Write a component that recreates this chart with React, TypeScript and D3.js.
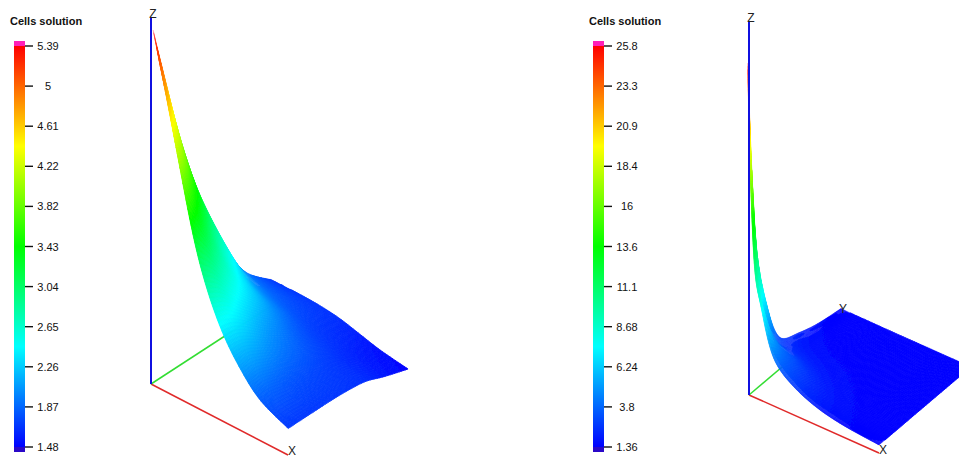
import React from "react";
import * as d3 from "d3";

const legendTitle = "Cells solution";
const leftTickLabels = ["5.39","5","4.61","4.22","3.82","3.43","3.04","2.65","2.26","1.87","1.48"];
const rightTickLabels = ["25.8","23.3","20.9","18.4","16","13.6","11.1","8.68","6.24","3.8","1.36"];

const leftXNodes = [0, 0.1, 0.2, 0.35, 0.5, 0.65, 0.8, 1];
const leftYNodes = [0, 0.1, 0.2, 0.35, 0.5, 0.65, 0.8, 1];
const leftValues = [
  [5.39,4.71,4.00,3.03,2.44,2.08,1.84,1.69],
  [4.76,4.20,3.61,2.88,2.40,2.08,1.84,1.69],
  [4.14,3.69,3.22,2.68,2.30,2.02,1.81,1.69],
  [3.38,3.07,2.74,2.42,2.12,1.92,1.77,1.69],
  [2.80,2.60,2.38,2.18,1.97,1.83,1.73,1.68],
  [2.28,2.17,2.06,1.95,1.82,1.74,1.68,1.65],
  [1.94,1.89,1.85,1.78,1.71,1.66,1.61,1.57],
  [1.69,1.69,1.69,1.68,1.65,1.59,1.53,1.48],
];

const rightXNodes = [0, 0.02, 0.05, 0.1, 0.2, 0.35, 0.55, 0.75, 1];
const rightYNodes = [0, 0.02, 0.05, 0.1, 0.2, 0.35, 0.55, 0.75, 1];
const rightValues = [
  [25.8,16.6,10.2,7.6,4.2,2.85,2.0,1.6,1.36],
  [21.5,13.93,9.4,7.2,4.12,2.8,1.98,1.59,1.36],
  [16,10.5,8.3,6.6,4.0,2.72,1.94,1.57,1.36],
  [10.5,7.6,6.3,5.4,3.75,2.6,1.88,1.54,1.36],
  [6.3,4.8,4.0,3.8,3.2,2.35,1.75,1.48,1.36],
  [3.0,2.8,2.6,2.45,2.2,1.85,1.55,1.42,1.36],
  [2.25,2.05,1.9,1.75,1.6,1.5,1.42,1.38,1.36],
  [1.75,1.6,1.55,1.5,1.45,1.4,1.37,1.36,1.36],
  [1.4,1.39,1.38,1.37,1.37,1.36,1.36,1.36,1.36],
];

const paletteStops = [0, 0.25, 0.5, 0.75, 1];
const paletteColors = ["#0000ff", "#00ffff", "#00ff00", "#ffff00", "#ff0000"];

type PanelCfg = {
  xNodes: number[]; yNodes: number[]; values: number[][]; ticks: string[];
  legendX: number; titleX: number; labelX: number;
  origin: [number, number]; ex: [number, number]; ey: [number, number];
  zTop: number; zLow: number; zHigh: number; lean: number;
  labels: { t: string; x: number; y: number }[];
};

const panels: PanelCfg[] = [
  {
    xNodes: leftXNodes, yNodes: leftYNodes, values: leftValues, ticks: leftTickLabels,
    legendX: 14, titleX: 10, labelX: 48,
    origin: [151, 384], ex: [137, 71], ey: [120, -78],
    zTop: 18, zLow: 8, zHigh: 354, lean: 0.006,
    labels: [{ t: "Z", x: 153, y: 18 }, { t: "X", x: 292, y: 455 }],
  },
  {
    xNodes: rightXNodes, yNodes: rightYNodes, values: rightValues, ticks: rightTickLabels,
    legendX: 593, titleX: 589, labelX: 627,
    origin: [749, 395], ex: [130, 58], ey: [92, -78],
    zTop: 22, zLow: 8, zHigh: 332, lean: -0.004,
    labels: [{ t: "Z", x: 751, y: 22 }, { t: "X", x: 883, y: 454 }, { t: "Y", x: 843, y: 313 }],
  },
];

function catmull(v: number[], t: number): number {
  const n = v.length;
  const i = Math.min(Math.floor(t), n - 2);
  const f = t - i;
  const p0 = v[Math.max(i - 1, 0)], p1 = v[i], p2 = v[i + 1], p3 = v[Math.min(i + 2, n - 1)];
  return 0.5 * (2 * p1 + (p2 - p0) * f + (2 * p0 - 5 * p1 + 4 * p2 - p3) * f * f + (3 * p1 - p0 - 3 * p2 + p3) * f * f * f);
}

const SUB = 12;

function Panel({ cfg }: { cfg: PanelCfg }) {
  const flat = cfg.values.flat();
  const vMin = +cfg.ticks[cfg.ticks.length - 1];
  const vMax = +cfg.ticks[0];
  const color = d3.scaleLinear<string>()
    .domain(paletteStops.map((s) => vMin + s * (vMax - vMin)))
    .range(paletteColors)
    .interpolate(d3.interpolateRgb)
    .clamp(true);
  const xToPx = d3.scaleLinear([0, 1], [0, cfg.ex[0]]);
  const xToPy = d3.scaleLinear([0, 1], [0, cfg.ex[1]]);
  const yToPx = d3.scaleLinear([0, 1], [0, cfg.ey[0]]);
  const yToPy = d3.scaleLinear([0, 1], [0, cfg.ey[1]]);
  const zScale = d3.scaleLinear([d3.min(flat)!, vMax], [cfg.zLow, cfg.zHigh]);
  const project = (a: number, b: number, u: number): [number, number] => [
    cfg.origin[0] + xToPx(a) + yToPx(b) + cfg.lean * zScale(u),
    cfg.origin[1] + xToPy(a) + yToPy(b) - zScale(u),
  ];

  const logs = cfg.values.map((r) => r.map(Math.log));
  const na = (cfg.xNodes.length - 1) * SUB + 1;
  const nb = (cfg.yNodes.length - 1) * SUB + 1;
  const grid: { p: [number, number]; u: number }[][] = [];
  for (let j = 0; j < nb; j++) {
    const tb = j / SUB;
    const b = Math.max(0, Math.min(1, catmull(cfg.yNodes, tb)));
    const col: number[] = cfg.xNodes.map((_, i) => catmull(logs.map((r) => r[i]), tb));
    const row: { p: [number, number]; u: number }[] = [];
    for (let i = 0; i < na; i++) {
      const ta = i / SUB;
      const a = Math.max(0, Math.min(1, catmull(cfg.xNodes, ta)));
      const u = Math.exp(catmull(col, ta));
      row.push({ p: project(a, b, u), u });
    }
    grid.push(row);
  }

  const quads: React.ReactNode[] = [];
  for (let j = nb - 2; j >= 0; j--) {
    for (let i = 0; i < na - 1; i++) {
      const c = [grid[j][i], grid[j][i + 1], grid[j + 1][i + 1], grid[j + 1][i]];
      const pts = c.map((q) => q.p);
      const d = d3.line()(pts) + "Z";
      const fill = color(d3.mean(c, (q) => q.u)!);
      const area = Math.abs(d3.polygonArea(pts));
      quads.push(<path key={`${j}-${i}`} d={d} fill={fill} stroke={fill} strokeWidth={area < 0.7 ? 0.15 : 0.8} />);
    }
  }

  // legend
  const barTop = 41, barBottom = 452;
  const tickY = d3.scalePoint(cfg.ticks, [46, 447]);
  const barY = d3.scaleLinear([vMin, vMax], [447, 46]);
  const strips = d3.range(46, 447).map((y) => (
    <rect key={y} x={cfg.legendX} y={y} width={11} height={1.2} fill={color(barY.invert(y + 0.5))} />
  ));
  const [ox, oy] = cfg.origin;
  return (
    <g>
      <text x={cfg.titleX} y={25} fontSize={11} fontWeight={700} fill="#111">{legendTitle}</text>
      <rect x={cfg.legendX} y={barTop} width={11} height={5} fill="#ff1fb8" />
      {strips}
      <rect x={cfg.legendX} y={447} width={11} height={barBottom - 447} fill="#2a08c8" />
      {cfg.ticks.map((t) => (
        <g key={t}>
          <line x1={cfg.legendX + 11} x2={cfg.legendX + 19} y1={tickY(t)!} y2={tickY(t)!} stroke="#111" strokeWidth={1.4} />
          <text x={cfg.labelX} y={tickY(t)! + 4} fontSize={11} textAnchor="middle" fill="#111">{t}</text>
        </g>
      ))}
      <line x1={ox} y1={oy} x2={ox + cfg.ex[0]} y2={oy + cfg.ex[1]} stroke="#e02a2a" strokeWidth={1.5} />
      <line x1={ox} y1={oy} x2={ox + cfg.ey[0]} y2={oy + cfg.ey[1]} stroke="#33dd33" strokeWidth={1.5} />
      <g filter="url(#soft)">{quads}</g>
      <line x1={ox} y1={oy} x2={ox} y2={cfg.zTop} stroke="#1010e0" strokeWidth={2} />
      {cfg.labels.map((l) => (
        <text key={l.t} x={l.x} y={l.y} fontSize={12} textAnchor="middle" fill="#222">{l.t}</text>
      ))}
    </g>
  );
}

export default function App() {
  return (
    <svg width={959} height={457} viewBox="0 0 959 457"
      style={{ position: "fixed", left: 0, top: 0, background: "#fff", fontFamily: "'Liberation Sans', Arial, sans-serif" }}>
      <defs>
        <filter id="soft" x="-5%" y="-5%" width="110%" height="110%">
          <feGaussianBlur stdDeviation="0.6" />
        </filter>
      </defs>
      {panels.map((p) => <Panel key={p.legendX} cfg={p} />)}
    </svg>
  );
}
